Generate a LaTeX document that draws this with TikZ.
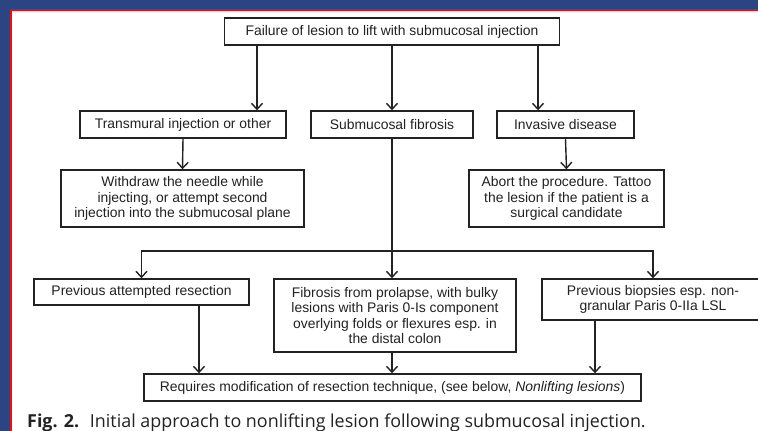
\documentclass[tikz,border=0pt]{standalone}
\usepackage{fontspec}
\setmainfont{Liberation Sans}
\newfontfamily\capfont{Open Sans}
\usepackage{tikz}
\usetikzlibrary{arrows.meta}

\definecolor{slideblue}{HTML}{2B4583}
\definecolor{slidelight}{HTML}{4B6BAE}
\definecolor{framered}{HTML}{F50A0A}
\definecolor{inkgray}{HTML}{222222}

\begin{document}
\begin{tikzpicture}[
    x=1pt, y=-1pt,
    box/.style={
        draw=inkgray,
        line width=1.4pt,
        inner sep=0pt,
        align=center,
        text=inkgray,
        font=\fontsize{13.9}{15.5}\selectfont
    },
    flow/.style={
        draw=inkgray,
        line width=1.4pt,
        -{Straight Barb[length=6pt, width=11pt, line width=1.4pt]}
    },
    caption/.style={
        anchor=base west,
        inner sep=0pt,
        text=inkgray,
        font=\capfont\fontsize{17.9}{20}\selectfont
    }
]

% ===== 背景与边框 =====
\useasboundingbox (0,0) rectangle (758,431);
\clip (0,0) rectangle (758,431);
\shade[left color=slideblue, middle color=slidelight, right color=slideblue]
    (0,0) rectangle (758,431);
\fill[framered] (10,9) rectangle (758,431);
\fill[white] (12,11) rectangle (758,431);

% ===== 第一层 =====
\node[box, minimum width=335, minimum height=27] (fail) at (392,31.5)
    {Failure of lesion to lift with submucosal injection};

% ===== 第二层(三种原因)=====
\node[box, minimum width=206, minimum height=27] (trans) at (183,124.5)
    {Transmural injection or other};
\node[box, minimum width=162, minimum height=27] (fibro) at (392,124.5)
    {Submucosal fibrosis};
\node[box, minimum width=137, minimum height=27] (invas) at (565.5,124.5)
    {Invasive disease};

% ===== 第三层(处理)=====
\node[box, minimum width=243, minimum height=57] (withdraw) at (182.5,198.5)
    {Withdraw the needle while\\ injecting, or attempt second\\ injection into the submucosal plane};
\node[box, minimum width=195, minimum height=57] (abort) at (566.5,198.5)
    {Abort the procedure. Tattoo\\ the lesion if the patient is a\\ surgical candidate};

% ===== 第四层(纤维化来源)=====
\node[box, minimum width=215, minimum height=26] (prevres) at (141.5,292)
    {Previous attempted resection};
\node[box, minimum width=242, minimum height=73] (prolapse) at (395,315.5)
    {Fibrosis from prolapse, with bulky\\ lesions with Paris 0-Is component\\ overlying folds or flexures esp. in\\ the distal colon};
\node[box, minimum width=222, minimum height=41] (biopsy) at (653,299.5)
    {Previous biopsies esp. non-\\ granular Paris 0-IIa LSL};

% ===== 底层 =====
\node[box, minimum width=497, minimum height=27] (modif) at (392.5,387.5)
    {Requires modification of resection technique, (see below, \textit{Nonlifting lesions})};

% ===== 连线 =====
\draw[flow] ([xshift=-135pt]fail.south) -- ([xshift=74pt]trans.north);
\draw[flow] (fail.south) -- (fibro.north);
\draw[flow] ([xshift=146pt]fail.south) -- ([xshift=-27.5pt]invas.north);
\draw[flow] (trans.south) -- (withdraw.north);
\draw[flow] (invas.south) -- (abort.north);

\coordinate (split) at (392,251); % 分叉点
\draw[draw=inkgray, line width=1.4pt] (fibro.south) -- (split);
\draw[flow] (split) -| (prevres.north);
\draw[flow] (split) -- (split |- prolapse.north);
\draw[flow] (split) -| (biopsy.north);

\draw[flow] ([xshift=57.5pt]prevres.south) -- ([xshift=-193.5pt]modif.north);
\draw[flow] (split |- prolapse.south) -- (split |- modif.north);
\draw[flow] ([xshift=-58pt]biopsy.south) -- ([xshift=202.5pt]modif.north);

% ===== 图注 =====
\node[caption] (figcap) at (27,427)
    {\textbf{Fig. 2.}\hspace{0.6em}Initial approach to nonlifting lesion following submucosal injection.};

\end{tikzpicture}
\end{document}
